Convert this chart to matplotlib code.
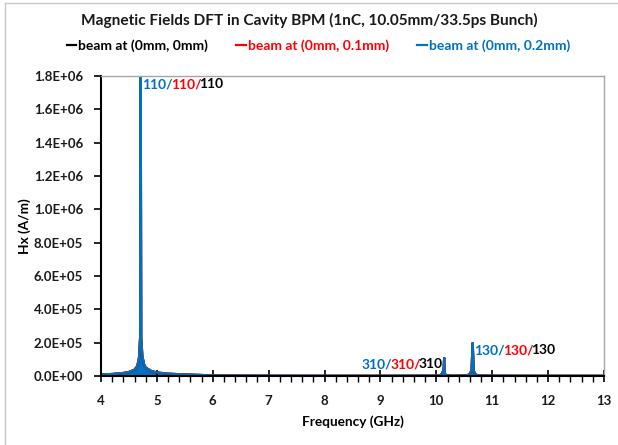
import matplotlib
matplotlib.use("Agg")
import matplotlib.pyplot as plt
from matplotlib.lines import Line2D
from matplotlib.ticker import FuncFormatter, MultipleLocator

plt.rcParams['font.family'] = ['Lato', 'DejaVu Sans']

# ---- data (envelope) ----
freq_ghz = [4.00, 4.20, 4.40, 4.50, 4.60, 4.65, 4.68, 4.70, 4.71, 4.72, 4.74,
            4.77, 4.80, 4.90, 5.00, 5.20, 5.50, 5.80, 6.00, 7.00, 8.00, 9.00,
            10.05, 10.10, 10.13, 10.14, 10.15, 10.18, 10.30,
            10.55, 10.60, 10.63, 10.65, 10.67, 10.70, 10.75, 11.00, 12.00, 13.00]
hx_00 = [9e3, 1.2e4, 1.8e4, 2.4e4, 3.8e4, 6.0e4, 1.1e5, 2.3e5, 1.9e6, 2.3e5, 1.2e5,
         7.0e4, 5.0e4, 3.0e4, 2.1e4, 1.4e4, 9e3, 6e3, 3e3, 1.5e3, 1.2e3, 1.2e3,
         2e3, 1.2e4, 4e4, 1.1e5, 1.5e4, 4e3, 1.5e3,
         4e3, 1.2e4, 3.5e4, 2.0e5, 3.0e4, 1.0e4, 3e3, 1.5e3, 1e3, 1e3]
hx_01 = list(hx_00)
hx_02 = list(hx_00)

series_labels = ["beam at (0mm, 0mm)", "beam at (0mm, 0.1mm)", "beam at (0mm, 0.2mm)"]
series_colors = ["#000000", "#ff0000", "#0070c0"]
title = "Magnetic Fields DFT in Cavity BPM (1nC, 10.05mm/33.5ps Bunch)"
mode_labels = ["110", "310", "130"]
mode_pos = [(4.735, 1.75e6), (10.12, 7.0e4), (10.68, 1.55e5)]
mode_align = ["left", "right", "left"]

W, H = 618, 445
fig = plt.figure(figsize=(W / 100, H / 100), dpi=100)
ax = fig.add_axes([101 / W, 1 - 376 / H, (604 - 101) / W, (376 - 76) / H])

data = [hx_00, hx_01, hx_02]
handles = []
for vals, lab, col in zip(data, series_labels, series_colors):
    ln, = ax.plot(freq_ghz, vals, color=col, lw=1.6, label=lab, solid_joinstyle='miter')
    handles.append(ln)
ax.fill_between(freq_ghz, 0, hx_02, color=series_colors[2], lw=0)

ax.set_xlim(4, 13)
ax.set_ylim(0, 1.8e6)
ax.xaxis.set_major_locator(MultipleLocator(1))
ax.xaxis.set_minor_locator(MultipleLocator(0.2))
ax.yaxis.set_major_locator(MultipleLocator(2e5))
ax.yaxis.set_major_formatter(FuncFormatter(lambda v, p: f"{v:.1E}"))

TS = 9.5
ax.tick_params(axis='x', which='major', direction='inout', length=8, width=1.2,
               pad=10, labelsize=TS)
ax.tick_params(axis='x', which='minor', direction='out', length=4, width=1.0)
ax.tick_params(axis='y', which='major', direction='out', length=5, width=1.2,
               labelsize=TS, pad=8)
for lbl in ax.get_xticklabels() + ax.get_yticklabels():
    lbl.set_fontweight('bold')
    lbl.set_color('#1a1a1a')

ax.spines['left'].set_linewidth(1.5)
ax.spines['bottom'].set_linewidth(1.5)
for s in ['top', 'right']:
    ax.spines[s].set_color('#a6a6a6')
    ax.spines[s].set_linewidth(1.0)

ax.set_xlabel("Frequency (GHz)", fontsize=9.8, fontweight='bold', labelpad=6)
ax.set_ylabel("Hx (A/m)", fontsize=9.8, fontweight='bold')
ax.yaxis.set_label_coords(-(101 - 31) / 503, 0.5)

fig.text(0.5, 1 - 20 / H, title, ha='center', va='center',
         fontsize=11.1, fontweight='bold', color='#1a1a1a')

leg = fig.legend(handles=handles, loc='center', bbox_to_anchor=(0.515, 1 - 46 / H),
                 ncol=3, frameon=False, handlelength=0.7, handletextpad=0.15,
                 columnspacing=2.0, prop={'size': 10, 'weight': 'bold'})
for txt, col in zip(leg.get_texts(), series_colors):
    txt.set_color(col)

# mode annotations (multi-coloured pieces placed by measured widths,
# with the wide slash spacing of the font slightly tightened)
fig.canvas.draw()
renderer = fig.canvas.get_renderer()
tkw = dict(fontsize=10, fontweight='bold', va='center', ha='left')
SLASH_TIGHTEN = 2.0  # px


def text_width(s):
    t = ax.text(0, 0, s, transform=None, **tkw)
    w = t.get_window_extent(renderer).width
    t.remove()
    return w


for m, (x, y), al in zip(mode_labels, mode_pos, mode_align):
    pieces = [m + "/", m + "/", m]
    cols = [series_colors[2], series_colors[1], series_colors[0]]
    widths = [text_width(p) - (SLASH_TIGHTEN if p.endswith("/") else 0) for p in pieces]
    total = sum(widths)
    start = 0.0 if al == 'left' else -total
    for k, (p, c) in enumerate(zip(pieces, cols)):
        off = start + sum(widths[:k])
        ax.annotate(p, xy=(x, y), xycoords='data', xytext=(off * 72 / 100, 0),
                    textcoords='offset points', color=c, **tkw)

# figure border (top & left)
fig.add_artist(Line2D([5 / W, 1], [1 - 3 / H, 1 - 3 / H], color='#c8c8c8', lw=1.0,
                      transform=fig.transFigure))
fig.add_artist(Line2D([5 / W, 5 / W], [0, 1 - 3 / H], color='#c8c8c8', lw=1.0,
                      transform=fig.transFigure))

fig.savefig("out.png", dpi=100)
